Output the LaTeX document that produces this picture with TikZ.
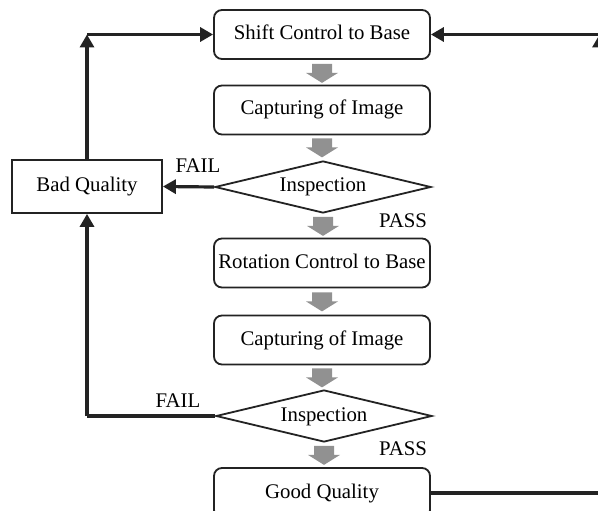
\documentclass[tikz,border=0pt]{standalone}
\usepackage{fontspec}
\setmainfont{Liberation Serif}
\usetikzlibrary{arrows.meta,shapes.geometric,calc}
\definecolor{linecol}{RGB}{35,35,35}
\definecolor{arrowgray}{RGB}{145,145,145}
\tikzset{
  txt/.style={font=\fontsize{20.8}{24}\selectfont},
  box/.style={draw=linecol, line width=1.8pt, rounded corners=8pt,
    minimum width=216pt, minimum height=49pt, inner sep=0pt,
    text height=14pt, text depth=4pt, txt},
  sqbox/.style={box, rounded corners=0pt, minimum width=150pt, minimum height=53pt},
  dec/.style={draw=linecol, line width=1.8pt, shape=diamond, aspect=4,
    minimum width=216pt, minimum height=52pt, inner sep=0pt,
    text height=14pt, text depth=4pt, txt},
  conn/.style={draw=linecol, line width=3.2pt, -{Triangle[length=13pt,width=14pt]}},
  plain/.style={draw=linecol, line width=3.2pt},
  lbl/.style={anchor=base, inner sep=0pt, txt},
  garrow/.pic={\fill[arrowgray] (-10,0) -- (10,0) -- (10,9) -- (16,9) -- (0,19)
     -- (-16,9) -- (-10,9) -- cycle;}
}
\begin{document}
\begin{tikzpicture}[x=1pt,y=-1pt]
\useasboundingbox (0,0) rectangle (598,511);
\fill[white] (0,0) rectangle (598,511);
\clip (0,0) rectangle (598,511);

\node[box] (shift) at (322,34.5) {Shift Control to Base};
\node[box] (cap1) at (322,110) {Capturing of Image};
\node[dec] (insp1) at (323,187) {Inspection};
\node[sqbox] (bad) at (87,186.5) {Bad Quality};
\node[box] (rot) at (322,263) {Rotation Control to Base};
\node[box] (cap2) at (322,340) {Capturing of Image};
\node[dec] (insp2) at (324,416) {Inspection};
\node[box, minimum height=50pt] (good) at (322,493) {Good Quality};

\pic at ($(shift.south)+(0,4)$) {garrow};
\pic at ($(cap1.south)+(0,3)$) {garrow};
\pic at ($(insp1.south)+(0,3)$) {garrow};
\pic at ($(rot.south)+(0,4)$) {garrow};
\pic at ($(cap2.south)+(0,3)$) {garrow};
\pic at ($(insp2.south)+(0,3)$) {garrow};

\node[lbl] (fail1) at (198,172) {FAIL};
\node[lbl] (pass1) at (403,227) {PASS};
\node[lbl] (fail2) at (178,407) {FAIL};
\node[lbl] (pass2) at (403,455) {PASS};

% fail 1
\draw[conn] (insp1.west) -- (bad.east);
% bad quality back to shift
\coordinate (c1) at (bad.north |- shift.west);
\draw[conn] (bad.north) -- (c1);
\draw[conn] (c1) -- (shift.west);
% fail 2
\coordinate (c2) at (insp2.west -| bad.south);
\draw[plain] (insp2.west) -- (c2);
\draw[conn] (c2) -- (bad.south);
% good quality back to shift
\coordinate (rx) at (599.5,0);
\coordinate (c3) at (good.east -| rx);
\coordinate (c4) at (shift.east -| rx);
\draw[plain] (good.east) -- (c3);
\draw[conn] (c3) -- (c4);
\draw[conn] (c4) -- (shift.east);
\end{tikzpicture}
\end{document}
